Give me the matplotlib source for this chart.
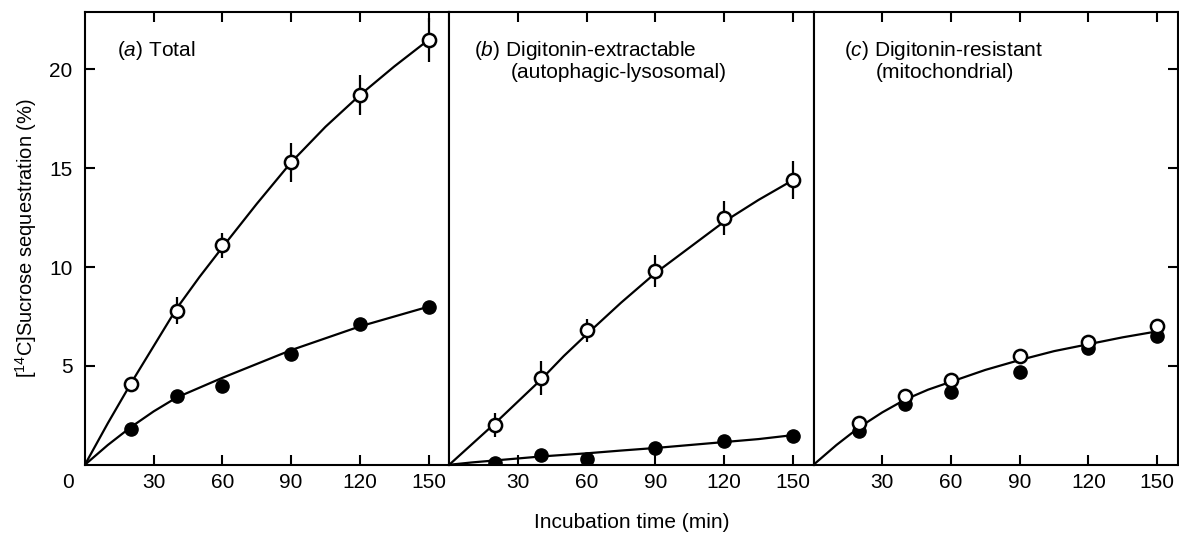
import matplotlib
matplotlib.use("Agg")
import matplotlib.pyplot as plt

plt.rcParams['font.family'] = ['Liberation Sans', 'DejaVu Sans']
plt.rcParams['mathtext.fontset'] = 'custom'
plt.rcParams['mathtext.rm'] = 'Liberation Sans'
plt.rcParams['mathtext.it'] = 'Liberation Sans:italic'

# incubation times (min)
times = [20, 40, 60, 90, 120, 150]

# (a) total
a_open = [4.1, 7.8, 11.1, 15.3, 18.7, 21.5]
a_open_err = [0.3, 0.7, 0.65, 1.0, 1.0, 1.1]
a_filled = [1.8, 3.5, 4.0, 5.6, 7.1, 8.0]

# (b) digitonin-extractable
b_open = [2.0, 4.4, 6.8, 9.8, 12.5, 14.4]
b_open_err = [0.6, 0.85, 0.6, 0.8, 0.85, 0.95]
b_filled = [0.1, 0.5, 0.3, 0.85, 1.2, 1.45]

# (c) digitonin-resistant
c_open = [2.1, 3.5, 4.3, 5.5, 6.2, 7.0]
c_filled = [1.7, 3.1, 3.7, 4.7, 5.9, 6.5]

# fitted curves
curve_t = [0, 10, 20, 30, 40, 50, 60, 75, 90, 105, 120, 135, 150]
a_open_curve = [0, 2.1, 4.1, 6.0, 7.9, 9.5, 11.0, 13.2, 15.3, 17.1, 18.7, 20.15, 21.5]
a_filled_curve = [0, 1.0, 1.9, 2.7, 3.4, 3.9, 4.4, 5.1, 5.8, 6.4, 7.0, 7.5, 8.0]
b_open_curve = [0, 1.05, 2.1, 3.2, 4.3, 5.5, 6.6, 8.2, 9.7, 11.0, 12.3, 13.4, 14.4]
b_filled_curve = [0, 0.12, 0.22, 0.32, 0.42, 0.5, 0.58, 0.72, 0.85, 1.0, 1.15, 1.3, 1.5]
c_curve = [0, 1.0, 1.9, 2.65, 3.3, 3.8, 4.2, 4.8, 5.3, 5.75, 6.1, 6.45, 6.75]

xticks = [30, 60, 90, 120, 150]
yticks = [5, 10, 15, 20]

fig = plt.figure(figsize=(11.79, 5.52), dpi=100)
axes = fig.subplots(1, 3, sharey=True)
fig.subplots_adjust(left=0.072, right=0.999, top=0.978, bottom=0.158, wspace=0)

ms = 9.5
fs = 15

def draw(ax, o, f, oe=None, fc_curve=None, oc_curve=None):
    if oc_curve is not None:
        ax.plot(curve_t, oc_curve, color='black', lw=1.6, zorder=2)
    if fc_curve is not None:
        ax.plot(curve_t, fc_curve, color='black', lw=1.6, zorder=2)
    ax.plot(times, f, 'o', color='black', ms=ms, zorder=3)
    if oe is not None:
        ax.errorbar(times, o, yerr=oe, fmt='none', ecolor='black', elinewidth=1.6, capsize=0, zorder=3)
    ax.plot(times, o, 'o', mfc='white', mec='black', mew=1.8, ms=ms, zorder=4)

draw(axes[0], a_open, a_filled, a_open_err, a_filled_curve, a_open_curve)
draw(axes[1], b_open, b_filled, b_open_err, b_filled_curve, b_open_curve)
draw(axes[2], c_open, c_filled, None, c_curve, None)

for i, ax in enumerate(axes):
    ax.set_xlim(0, 159)
    ax.set_ylim(0, 22.9)
    ax.set_xticks(xticks)
    ax.set_yticks(yticks)
    for s in ax.spines.values():
        s.set_linewidth(1.5)
    ax.tick_params(axis='x', direction='in', top=True, length=7, width=1.5, pad=6, labelsize=fs)
    ax.tick_params(axis='y', direction='in', left=(i == 0), right=(i == 2), length=7, width=1.5, pad=9, labelsize=fs)

axes[0].text(-0.047, -0.04, "0", transform=axes[0].transAxes, ha='center', va='center', fontsize=fs)
axes[0].set_ylabel("[$^{14}$C]Sucrose sequestration (%)", fontsize=14.5, labelpad=7)
axes[1].set_xlabel("Incubation time (min)", fontsize=15, labelpad=15)

axes[0].text(0.088, 0.916, "($\\mathit{a}$) Total", transform=axes[0].transAxes, ha='left', va='center', fontsize=fs)
axes[1].text(0.068, 0.916, "($\\mathit{b}$) Digitonin-extractable", transform=axes[1].transAxes, ha='left', va='center', fontsize=fs)
axes[1].text(0.17, 0.866, "(autophagic-lysosomal)", transform=axes[1].transAxes, ha='left', va='center', fontsize=fs)
axes[2].text(0.083, 0.916, "($\\mathit{c}$) Digitonin-resistant", transform=axes[2].transAxes, ha='left', va='center', fontsize=fs)
axes[2].text(0.171, 0.866, "(mitochondrial)", transform=axes[2].transAxes, ha='left', va='center', fontsize=fs)

fig.savefig("out.png", dpi=100)
